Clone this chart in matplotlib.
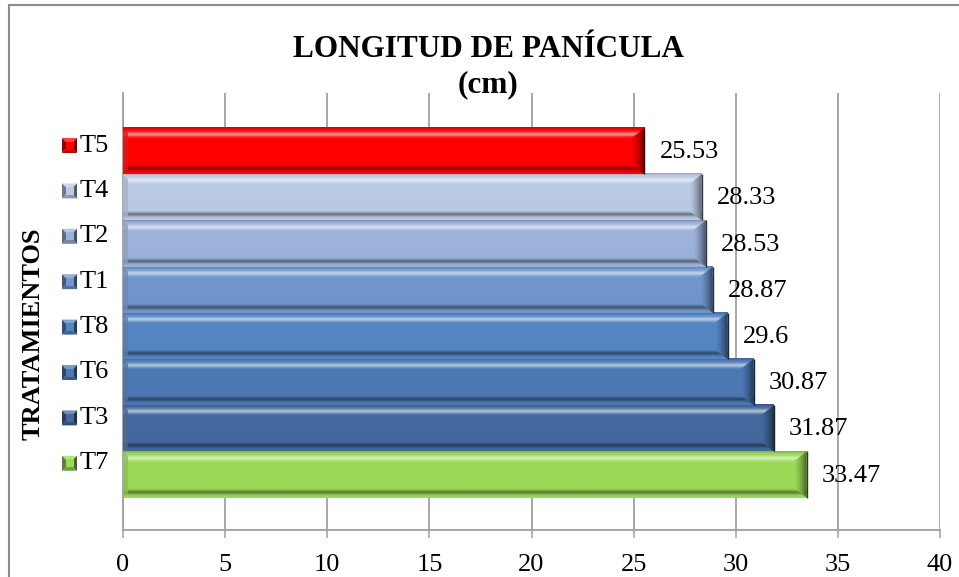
import numpy as np
import matplotlib
matplotlib.use("Agg")
import matplotlib.pyplot as plt
from matplotlib.patches import Polygon, Rectangle
from matplotlib.lines import Line2D
from matplotlib.colors import to_rgb

plt.rcParams['font.family'] = ['Liberation Serif', 'DejaVu Serif']

# Treatments from bottom to top and their panicle length (cm)
tratamientos = ["T7", "T3", "T6", "T8", "T1", "T2", "T4", "T5"]
longitud = [33.47, 31.87, 30.87, 29.6, 28.87, 28.53, 28.33, 25.53]
colores = ["#9BD957", "#44699E", "#4C79B4", "#5585C2", "#7096CC",
           "#9DB2DA", "#BBCAE4", "#FF0000"]
xticks = [0, 5, 10, 15, 20, 25, 30, 35, 40]

W, H = 959, 577
fig = plt.figure(figsize=(W / 100, H / 100), dpi=100)
fig.patch.set_facecolor("white")

ax_left, ax_right, ax_top, ax_bot = 123, 940, 93, 530
ax = fig.add_axes([ax_left / W, 1 - ax_bot / H, (ax_right - ax_left) / W,
                   (ax_bot - ax_top) / H])

ypos = np.arange(len(tratamientos))
bar_h = 1.0
ax.set_xlim(0, 40)
ax.set_ylim(-1.2, 8.26)

# base bars
ax.barh(ypos, longitud, height=bar_h, color=colores, zorder=2, linewidth=0)

# px -> data conversions for the bevel geometry
px_x = 40 / (ax_right - ax_left)
px_y = (8.26 + 1.2) / (ax_bot - ax_top)

t = np.linspace(0, 1, 120)
hl = 0.55 * np.exp(-((t - 0.15) / 0.05) ** 2)
sh = 0.42 * np.exp(-((t - 0.88) / 0.045) ** 2) + 0.18 * np.exp(-((t - 0.01) / 0.02) ** 2)
s = np.linspace(0, 1, 40)
side = 1.0 - 0.55 * s ** 1.5          # shading across the end facet

for y, v, c in zip(ypos, longitud, colores):
    base = np.array(to_rgb(c))
    rows = base[None, :] * (1 - hl[:, None]) + hl[:, None]
    rows = rows * (1 - sh[:, None])
    img = np.repeat(rows[:, None, :], 2, axis=1)
    top, bot = y + bar_h / 2, y - bar_h / 2
    ax.imshow(img, extent=(0, v, bot, top), aspect="auto",
              interpolation="bilinear", zorder=3)

    # right-end bevel facet, shaded from the body colour to a dark edge
    dx, dy = 13 * px_x, 10 * px_y
    facet = Polygon([(v, top), (v, bot), (v - dx, bot + dy), (v - dx, top - dy)],
                    closed=True, facecolor="none", edgecolor="none",
                    transform=ax.transData)
    fimg = np.clip(base[None, None, :] * side[None, :, None], 0, 1)
    fimg = np.repeat(fimg, 2, axis=0)
    im = ax.imshow(fimg, extent=(v - dx, v, bot, top), aspect="auto",
                   interpolation="bilinear", zorder=4)
    im.set_clip_path(facet)
    ax.plot([v, v], [bot, top], color=base * 0.3, lw=1.0, zorder=5,
            solid_capstyle="butt")

    # left-end bevel facet
    lx = 5 * px_x
    ax.add_patch(Polygon([(0, top), (0, bot), (lx, bot + 0.5 * dy), (lx, top - 0.5 * dy)],
                         closed=True, facecolor=np.clip(base * 0.75 + 0.1, 0, 1),
                         edgecolor="none", zorder=4, alpha=0.8))
    ax.annotate(f"{v:g}", xy=(v, y), xytext=(15, -1), textcoords="offset pixels",
                ha="left", va="center", fontsize=19, color="black", zorder=6)

grid_c = "#A0A0A0"
ax.set_xticks(xticks)
ax.set_xticklabels([str(x) for x in xticks], fontsize=19)
ax.set_yticks([])
ax.xaxis.grid(True, color=grid_c, linewidth=1.3, zorder=0)
ax.set_axisbelow(True)
ax.tick_params(axis="x", direction="out", length=6, width=1.1, color=grid_c, pad=11)
for sp in ["top", "right"]:
    ax.spines[sp].set_visible(False)
for sp in ["left", "bottom"]:
    ax.spines[sp].set_color(grid_c)
    ax.spines[sp].set_linewidth(1.3)

# titles
fig.text(488 / W, 1 - 57 / H, "LONGITUD DE PANÍCULA", ha="center", va="baseline",
         fontsize=22.5, fontweight="bold")
fig.text(488 / W, 1 - 92 / H, "(cm)", ha="center", va="baseline",
         fontsize=22.5, fontweight="bold")
fig.text(33 / W, 1 - 334 / H, "TRATAMIENTOS", ha="center", va="center",
         rotation=90, fontsize=19, fontweight="bold")


def fp(px, py):
    return (px / W, 1 - py / H)


# legend column on the left
leg_top, leg_step = 145.5, 45.4
for i, (name, c) in enumerate(zip(tratamientos[::-1], colores[::-1])):
    cy = leg_top + i * leg_step
    base = np.array(to_rgb(c))
    x0, x1 = 62, 77
    y0, y1 = cy - 7.5, cy + 7.5
    cxm, cym = (x0 + x1) / 2, cy
    tris = [
        ([(x0, y0), (x1, y0), (cxm, cym)], np.clip(base * 0.75 + 0.25, 0, 1)),
        ([(x0, y1), (x1, y1), (cxm, cym)], base * 0.75),
        ([(x0, y0), (x0, y1), (cxm, cym)], base * 0.6),
        ([(x1, y0), (x1, y1), (cxm, cym)], base * 0.45),
    ]
    for pts, col in tris:
        fig.add_artist(Polygon([fp(*p) for p in pts], closed=True,
                               facecolor=col, edgecolor="none",
                               transform=fig.transFigure))
    fig.add_artist(Rectangle(fp(x0 + 3.5, y1 - 3.5), 8 / W, 8 / H,
                             facecolor=base, edgecolor="none",
                             transform=fig.transFigure))
    fig.text(80 / W, 1 - cy / H, name, ha="left", va="center", fontsize=19)

# chart frame
fc = "#8C8C8C"
fig.add_artist(Line2D([9 / W, 1], [1 - 5 / H, 1 - 5 / H], color=fc, lw=1.5,
                      transform=fig.transFigure))
fig.add_artist(Line2D([9 / W, 9 / W], [0, 1 - 5 / H], color=fc, lw=1.5,
                      transform=fig.transFigure))

fig.savefig("out.png", dpi=100)
